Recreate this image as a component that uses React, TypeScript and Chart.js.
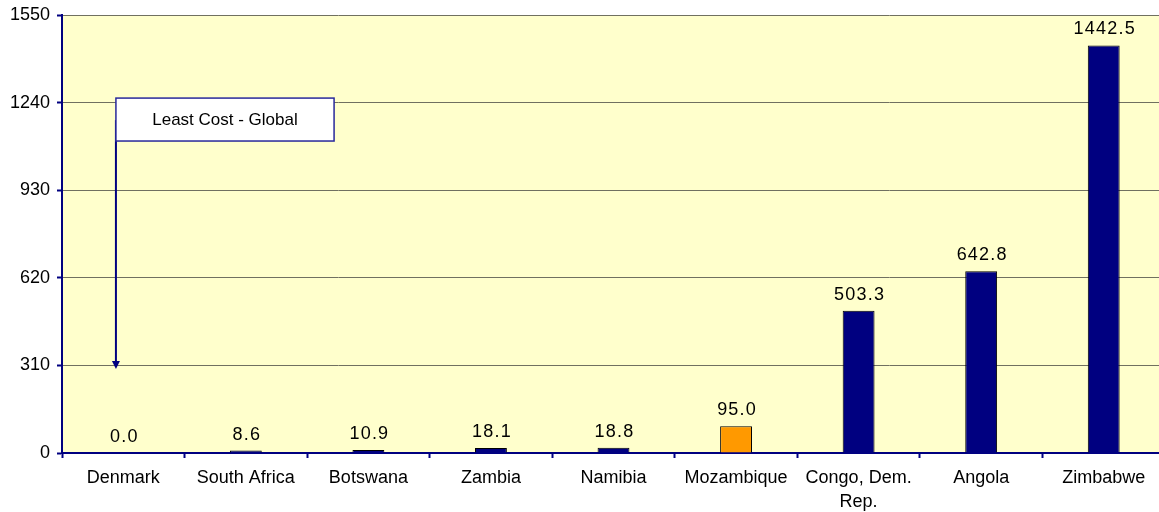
import React, { useEffect, useRef } from "react";
import { Chart, registerables } from "chart.js";

Chart.register(...registerables);

// Countries along the category axis (multi-line where the label wraps)
const countries: (string | string[])[] = [
  "Denmark",
  "South Africa",
  "Botswana",
  "Zambia",
  "Namibia",
  "Mozambique",
  ["Congo, Dem.", "Rep."],
  "Angola",
  "Zimbabwe",
];

// Cost values per country
const costs = [0.0, 8.6, 10.9, 18.1, 18.8, 95.0, 503.3, 642.8, 1442.5];

// Bar colours: highlighted country in orange, the rest navy
const barColors = [
  "#000080", "#000080", "#000080", "#000080", "#000080",
  "#FF9900", "#000080", "#000080", "#000080",
];

// Value axis
const yMin = 0;
const yMax = 1550;
const yStep = 310;

// Callout: label text, box extent (category units / values), arrow (values)
const calloutText = "Least Cost - Global";
const calloutBoxX = [-0.06, 1.72];
const calloutBoxY = [1256, 1104];
const calloutArrowY = [1178, 297];

const FONT = "'Liberation Sans', Arial, Helvetica, sans-serif";
const NAVY = "#000080";

const plotBackground = {
  id: "plotBackground",
  beforeDraw(chart: any) {
    const { ctx, chartArea } = chart;
    ctx.save();
    ctx.fillStyle = "#FFFFCC";
    ctx.fillRect(chartArea.left, chartArea.top, chartArea.right - chartArea.left, chartArea.bottom - chartArea.top);
    ctx.restore();
  },
};

const valueLabels = {
  id: "valueLabels",
  afterDatasetsDraw(chart: any) {
    const { ctx } = chart;
    const meta = chart.getDatasetMeta(0);
    ctx.save();
    ctx.font = `18px ${FONT}`;
    (ctx as any).letterSpacing = "1.2px";
    ctx.fillStyle = "#000";
    ctx.textAlign = "center";
    ctx.textBaseline = "alphabetic";
    meta.data.forEach((bar: any, i: number) => {
      ctx.fillText(costs[i].toFixed(1), bar.x + 1, bar.y - 11);
    });
    ctx.restore();
  },
};

const callout = {
  id: "callout",
  afterDatasetsDraw(chart: any) {
    const { ctx } = chart;
    const xs = chart.scales.x;
    const ys = chart.scales.y;
    const left = xs.getPixelForValue(calloutBoxX[0]);
    const right = xs.getPixelForValue(calloutBoxX[1]);
    const top = ys.getPixelForValue(calloutBoxY[0]);
    const bottom = ys.getPixelForValue(calloutBoxY[1]);
    const a0 = ys.getPixelForValue(calloutArrowY[0]);
    const a1 = ys.getPixelForValue(calloutArrowY[1]);
    ctx.save();
    // arrow
    ctx.strokeStyle = NAVY;
    ctx.fillStyle = NAVY;
    ctx.lineWidth = 2;
    ctx.beginPath();
    ctx.moveTo(left, a0);
    ctx.lineTo(left, a1 - 6);
    ctx.stroke();
    ctx.beginPath();
    ctx.moveTo(left - 4, a1 - 8);
    ctx.lineTo(left + 4, a1 - 8);
    ctx.lineTo(left, a1);
    ctx.closePath();
    ctx.fill();
    // box
    ctx.fillStyle = "#FFFFFF";
    ctx.fillRect(left, top, right - left, bottom - top);
    ctx.lineWidth = 1.5;
    ctx.strokeStyle = "#28289A";
    ctx.strokeRect(left, top, right - left, bottom - top);
    ctx.fillStyle = "#000";
    ctx.font = `17px ${FONT}`;
    ctx.textAlign = "center";
    ctx.textBaseline = "middle";
    ctx.fillText(calloutText, (left + right) / 2, (top + bottom) / 2 + 1);
    ctx.restore();
  },
};

export default function App() {
  const canvasRef = useRef<HTMLCanvasElement | null>(null);

  useEffect(() => {
    const canvas = canvasRef.current;
    if (!canvas) return;
    const chart = new Chart(canvas, {
      type: "bar",
      data: {
        labels: countries,
        datasets: [
          {
            data: costs,
            backgroundColor: barColors,
            borderColor: "#000000",
            borderWidth: 1,
            categoryPercentage: 1,
            barPercentage: 0.26,
          },
        ],
      },
      options: {
        responsive: false,
        animation: false,
        devicePixelRatio: 1,
        layout: { padding: { top: 15, right: 5, left: 0, bottom: 0 } },
        plugins: {
          legend: { display: false },
          tooltip: { enabled: false },
        },
        scales: {
          x: {
            offset: true,
            grid: {
              offset: true,
              drawOnChartArea: false,
              drawTicks: true,
              tickLength: 5,
              tickColor: NAVY,
              tickWidth: 2,
            },
            border: { color: NAVY, width: 2 },
            ticks: {
              color: "#000",
              font: { family: FONT, size: 18, lineHeight: 1.28 },
              padding: 9,
              maxRotation: 0,
              autoSkip: false,
            },
            afterFit(scale: any) {
              scale.height = 59;
              scale.paddingLeft = 0;
              scale.paddingRight = 0;
            },
          },
          y: {
            min: yMin,
            max: yMax,
            ticks: {
              stepSize: yStep,
              color: "#000",
              font: { family: FONT, size: 18 },
              padding: 7,
              callback: (v: any) => String(v),
            },
            grid: {
              color: "#707060",
              lineWidth: 1,
              drawTicks: true,
              tickLength: 5,
              tickColor: NAVY,
              tickWidth: 2,
            },
            border: { color: NAVY, width: 2 },
            afterFit(scale: any) {
              scale.width = 62;
              scale.paddingTop = 0;
              scale.paddingBottom = 0;
            },
          },
        },
      },
      plugins: [plotBackground, valueLabels, callout],
    });
    return () => chart.destroy();
  }, []);

  return (
    <div style={{ position: "absolute", left: 0, top: 0, width: 1159, height: 512, overflow: "hidden", background: "#fff" }}>
      <canvas ref={canvasRef} width={1170} height={512} style={{ display: "block" }} />
    </div>
  );
}
